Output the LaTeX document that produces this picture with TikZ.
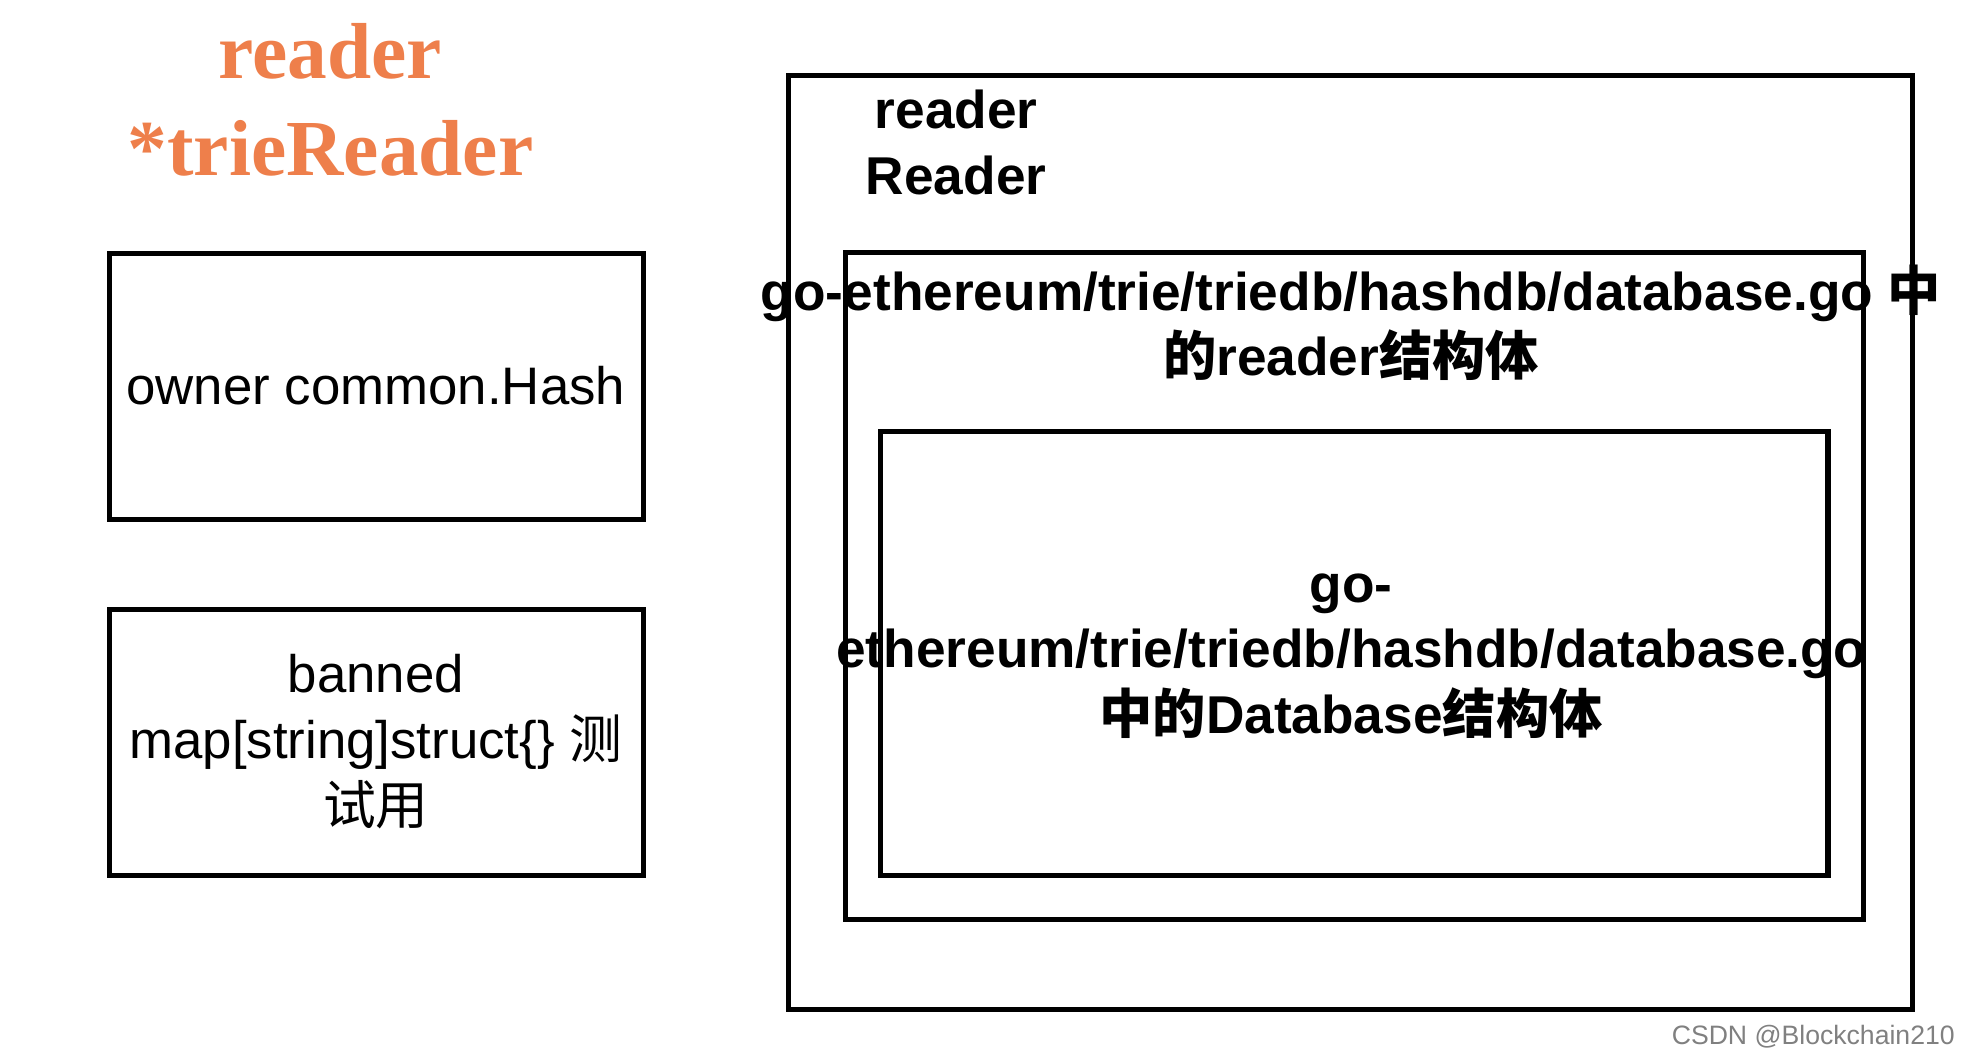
\documentclass[tikz,border=0pt]{standalone}
\usepackage{fontspec}
\setmainfont{Liberation Sans}
\newfontfamily\cjk{Noto Sans CJK SC}
\newfontfamily\titlefont{Liberation Serif}
\definecolor{orangetitle}{HTML}{EE7F4B}
\tikzset{
  field/.style={draw=black,line width=1.2pt},
  boxtext/.style={align=center,font=\fontsize{11.9}{14.8}\selectfont},
  boldtext/.style={align=center,font=\bfseries\fontsize{12}{14.8}\selectfont}
}
\begin{document}
\begin{tikzpicture}[x=0.01cm,y=-0.01cm]
	\useasboundingbox (0,0) rectangle (1568,834);

	\node[align=center,text=orangetitle,font=\titlefont\bfseries\fontsize{17.9}{22}\selectfont] (title) at (262,79) {reader\\*trieReader};

	\draw[field] (87,201) rectangle (510,412);
	\node[boxtext] (owner) at (298,306) {owner common.Hash};
	\draw[field] (87,483) rectangle (510,694);
	\node[boxtext] (banned) at (298,588) {banned\\map[string]struct\{\} {\cjk 测}\\{\cjk 试用}};

	\draw[field] (625,60) rectangle (1516,800);
	\draw[field] (670,200) rectangle (1477,729);
	\draw[field] (698,342) rectangle (1449,694);

	\node[boldtext] (rdr) at (758,113) {reader\\Reader};
	\node[boldtext] (hashrdr) at (1071,256) {go-ethereum/trie/triedb/hashdb/database.go {\cjk 中}\\{\cjk 的}reader{\cjk 结构体}};
	\node[boldtext] (hashdb) at (1071,520) {go-\\ethereum/trie/triedb/hashdb/database.go\\{\cjk 中的}Database{\cjk 结构体}};

	\node[text=gray,anchor=east,font=\fontsize{6}{7}\selectfont] (mark) at (1562,822) {CSDN @Blockchain210};
\end{tikzpicture}
\end{document}
